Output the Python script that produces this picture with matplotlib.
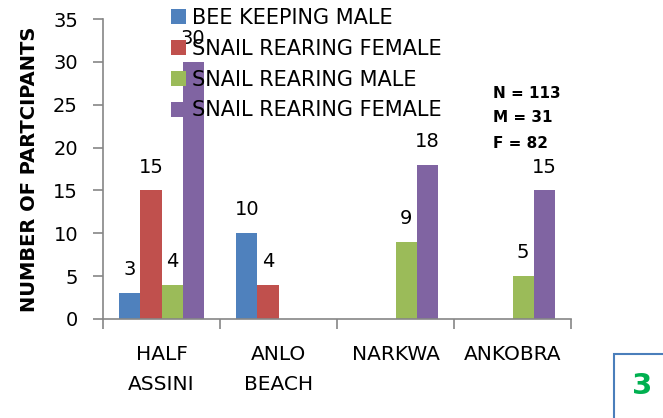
import numpy as np
import matplotlib.pyplot as plt
from matplotlib.patches import Rectangle

# Data
sites = ['HALF\nASSINI', 'ANLO\nBEACH', 'NARKWA', 'ANKOBRA']
series = ['BEE KEEPING MALE', 'SNAIL REARING FEMALE',
          'SNAIL REARING MALE', 'SNAIL REARING FEMALE']
bee_male = [3, 10, 0, 0]
snail_female_1 = [15, 4, 0, 0]
snail_male = [4, 0, 9, 5]
snail_female_2 = [30, 0, 18, 15]
colors = ['#4F81BD', '#C0504D', '#9BBB59', '#8064A2']

plt.rcParams['font.family'] = ['DejaVu Sans']

W, H = 663, 418
fig = plt.figure(figsize=(W / 100, H / 100), dpi=100)
ax = fig.add_axes([103 / W, 1 - 319 / H, (571 - 103) / W, 300 / H])

x = np.arange(len(sites))
w = 0.18
handles = []
for i, vals in enumerate([bee_male, snail_female_1, snail_male, snail_female_2]):
    vals = np.array(vals, dtype=float)
    pos = x + (i - 1.5) * w
    b = ax.bar(pos, vals, width=w, color=colors[i], label=series[i], zorder=2)
    handles.append(b)
    # zero-height bars get no label
    for p, v in zip(pos, vals):
        if v > 0:
            ax.annotate(f'{int(v)}', (p, v), xytext=(0, 10), textcoords='offset points',
                        ha='center', va='bottom', fontsize=14, color='black', zorder=1)

ax.set_xlim(-0.5, 3.5)
ax.set_ylim(0, 35)
ax.set_yticks(range(0, 36, 5))
ax.set_xticks(x)
ax.set_xticklabels(sites, fontsize=14.5, linespacing=1.7)
ax.set_xticks(np.arange(-0.5, 3.6, 1), minor=True)
ax.tick_params(axis='x', which='major', length=0, pad=19)
ax.tick_params(axis='x', which='minor', length=7, color='#868686', width=1.2)
ax.tick_params(axis='y', length=7, color='#868686', width=1.2, labelsize=14, pad=11)

for s in ['top', 'right']:
    ax.spines[s].set_visible(False)
for s in ['left', 'bottom']:
    ax.spines[s].set_color('#868686')
    ax.spines[s].set_linewidth(1.2)

ax.set_ylabel('NUMBER OF PARTCIPANTS', fontsize=14, fontweight='bold', labelpad=10)
ax.patch.set_alpha(0)

fig.legend(handles=handles, loc='upper left', bbox_to_anchor=(171 / W, 1 - 8 / H),
           frameon=False, fontsize=15, handlelength=0.7, handleheight=0.7,
           handletextpad=0.3, labelspacing=0.52, borderpad=0.0, borderaxespad=0)

fig.text(493 / W, 1 - 94 / H, 'N = 113', fontsize=11, fontweight='bold', va='center')
fig.text(493 / W, 1 - 118 / H, 'M = 31', fontsize=11, fontweight='bold', va='center')
fig.text(493 / W, 1 - 143 / H, 'F = 82', fontsize=11, fontweight='bold', va='center')

fig.patches.append(Rectangle((614 / W, -0.02), 0.2, (H - 354) / H + 0.02,
                             transform=fig.transFigure, fill=False,
                             edgecolor='#4A7EBB', linewidth=1.5))
fig.text(642 / W, 1 - 386 / H, '3', fontsize=21, fontweight='bold', color='#00B050',
         ha='center', va='center')

fig.savefig('out.png', dpi=100)
